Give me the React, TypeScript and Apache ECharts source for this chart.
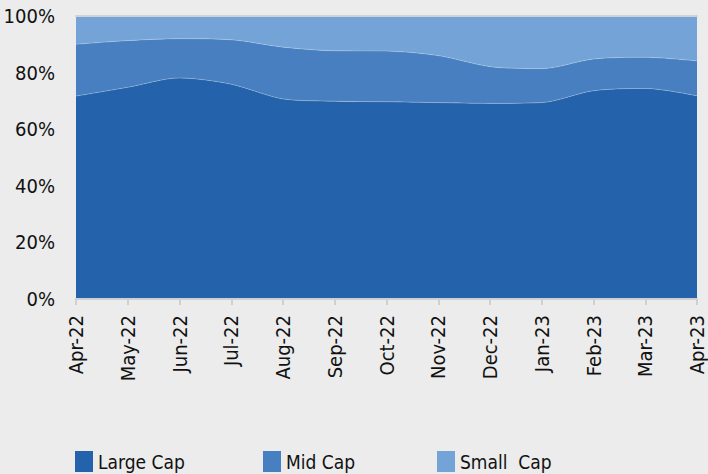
import React, { useEffect, useRef } from "react";
import * as echarts from "echarts";

const categories = ["Apr-22", "May-22", "Jun-22", "Jul-22", "Aug-22", "Sep-22", "Oct-22", "Nov-22", "Dec-22", "Jan-23", "Feb-23", "Mar-23", "Apr-23"];
const largeCap = [71.7, 74.8, 78.1, 75.9, 70.7, 69.9, 69.7, 69.4, 69.1, 69.4, 73.6, 74.4, 71.8];
const midCap = [18.3, 16.5, 13.9, 15.7, 18.3, 17.8, 17.9, 16.6, 13.0, 12.0, 11.2, 11.0, 12.3];
const smallCap = [10.0, 8.7, 8.0, 8.4, 11.0, 12.3, 12.4, 14.0, 17.9, 18.6, 15.2, 14.6, 15.9];
const seriesNames = ["Large Cap", "Mid Cap", "Small  Cap"];
const colors = ["#2463ab", "#477fc0", "#74a4d7"];

const FONT = "'Liberation Sans Narrow', 'DejaVu Sans Condensed', 'Arial Narrow', sans-serif";

export default function App() {
  const ref = useRef<HTMLDivElement>(null);
  useEffect(() => {
    if (!ref.current) return;
    const chart = echarts.init(ref.current, null, { renderer: "svg" });
    const values = [largeCap, midCap, smallCap];
    const legendLefts = [75, 263, 437];
    chart.setOption({
      animation: false,
      backgroundColor: "#ebeceb",
      textStyle: { fontFamily: FONT },
      grid: { left: 76, right: 11, top: 16, bottom: 175, containLabel: false },
      legend: seriesNames.map((n, i) => ({
        data: [n],
        left: legendLefts[i],
        top: 451,
        padding: 0,
        itemWidth: 18,
        itemHeight: 21,
        itemGap: 8,
        icon: "rect",
        textStyle: { fontFamily: FONT, fontSize: 19, color: "#111", lineHeight: 21 },
        selectedMode: false,
      })),
      xAxis: [
        {
          type: "category",
          data: categories,
          boundaryGap: false,
          axisLine: { show: true, lineStyle: { color: "#cfd0cf", width: 2 } },
          axisTick: { show: true, length: 6, lineStyle: { color: "#cfd0cf", width: 2 } },
          axisLabel: {
            rotate: 90,
            margin: 16,
            fontFamily: FONT,
            fontSize: 20,
            color: "#111",
            interval: 0,
          },
          z: 10,
        },
        {
          type: "category",
          data: categories,
          position: "top",
          boundaryGap: false,
          axisLine: { show: true, lineStyle: { color: "#d2d2d2", width: 2 } },
          axisTick: { show: false },
          axisLabel: { show: false },
          z: 10,
        },
      ],
      yAxis: {
        type: "value",
        min: 0,
        max: 100,
        interval: 20,
        axisLine: { show: false },
        axisTick: { show: false },
        splitLine: { show: false },
        axisLabel: {
          formatter: "{value}%",
          margin: 21,
          fontFamily: FONT,
          fontSize: 20,
          color: "#111",
        },
      },
      series: seriesNames.map((n, i) => ({
        name: n,
        type: "line",
        stack: "total",
        data: values[i],
        smooth: 0.3,
        showSymbol: false,
        symbol: "none",
        color: colors[i],
        lineStyle: { width: 0.8, color: "rgba(255,255,255,0.3)" },
        areaStyle: { color: colors[i], opacity: 1 },
      })),
    });
    return () => chart.dispose();
  }, []);
  return (
    <div
      ref={ref}
      style={{ position: "absolute", left: 0, top: 0, width: 708, height: 474 }}
    />
  );
}
